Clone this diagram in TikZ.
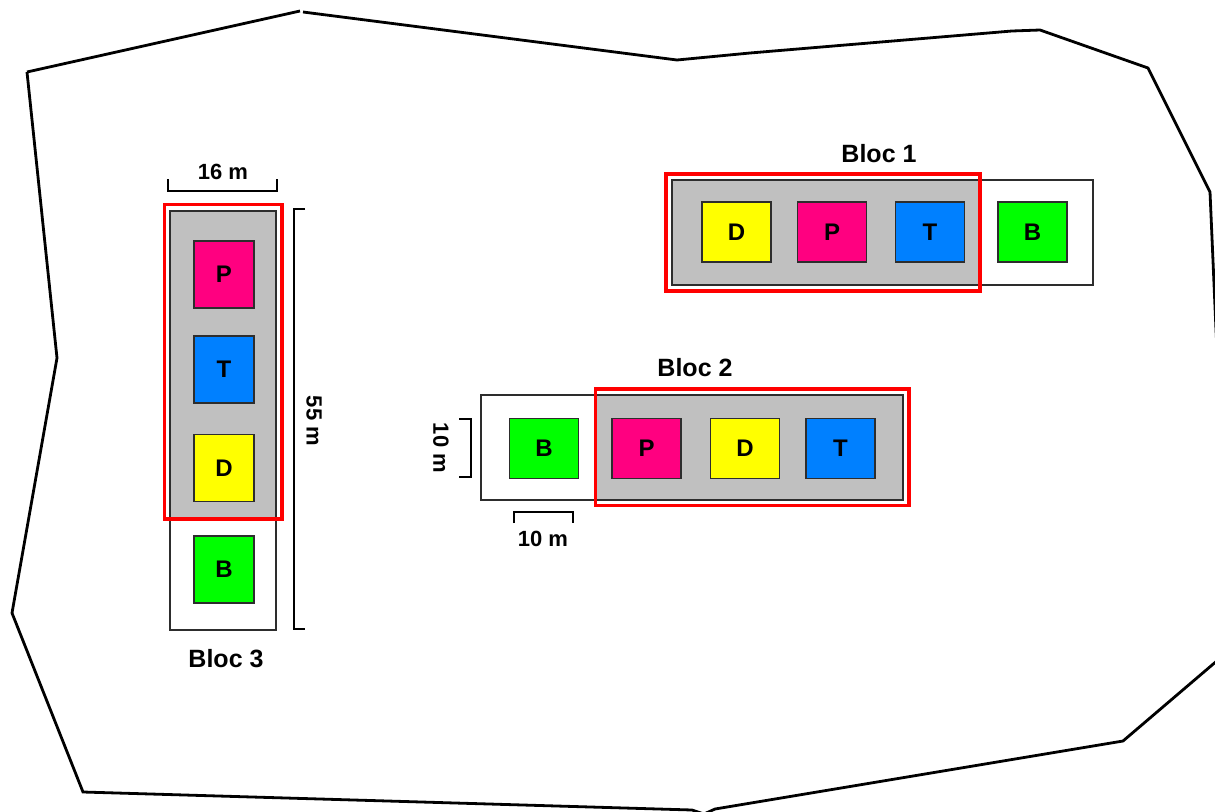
\documentclass[tikz,border=0pt]{standalone}
\usepackage{fontspec}
\setmainfont{Liberation Sans}
\definecolor{plotP}{RGB}{255,0,128}
\definecolor{plotT}{RGB}{0,128,255}
\definecolor{plotD}{RGB}{255,255,0}
\definecolor{plotB}{RGB}{0,255,0}
\definecolor{zone}{RGB}{192,192,192}
\definecolor{edge}{RGB}{45,45,45}
\tikzset{
  field/.style={line width=2.8pt, black, line join=miter},
  strip/.style={draw=edge, line width=1.4pt, fill=white},
  zonefill/.style={fill=zone},
  zoneline/.style={draw=edge, line width=1.4pt},
  frame/.style={draw=red, line width=3.2pt},
  hcell/.style={draw=edge, line width=1.4pt, minimum width=69pt, minimum height=60pt,
    inner sep=0pt, font=\fontsize{24}{24}\selectfont},
  vcell/.style={draw=edge, line width=1.4pt, minimum width=60pt, minimum height=67pt,
    inner sep=0pt, font=\fontsize{24}{24}\selectfont},
  bloclabel/.style={font=\bfseries\fontsize{25}{25}\selectfont, inner sep=0pt},
  dimlabel/.style={font=\bfseries\fontsize{22}{22}\selectfont, inner sep=0pt},
  dimline/.style={line width=2.8pt, black, line join=miter}
}
\begin{document}
\begin{tikzpicture}[x=1pt,y=-1pt]
\useasboundingbox (0,0) rectangle (1215,811);
\fill[white] (0,0) rectangle (1215,811);

% field boundary
\draw[field] (27,72) -- (300,11);
\draw[field] (303,12) -- (677,60) -- (750,53) -- (1012,31) -- (1040,30)
  -- (1148,68) -- (1210,192) -- (1216,330) -- (1232,648) -- (1123,741)
  -- (715,809) -- (704,814) -- (692,810) -- (83,792) -- (12,613) -- (57,358) -- (27,72);

% ---------- Bloc 1 ----------
\draw[strip] (672,180) rectangle (1093,285);
\fill[zonefill] (672,180) rectangle (980,285);
\draw[zoneline] (980,180) -- (672,180) -- (672,285) -- (980,285);
\draw[frame] (666,174) rectangle (980,291);
\node[hcell, fill=plotD] (b1d) at (736.5,232) {\bfseries D};
\node[hcell, fill=plotP] (b1p) at (832,232) {\bfseries P};
\node[hcell, fill=plotT] (b1t) at (930,232) {\bfseries T};
\node[hcell, fill=plotB] (b1b) at (1032.5,232) {\bfseries B};
\node[bloclabel] (bloc1) at (879,154) {Bloc 1};

% ---------- Bloc 2 ----------
\draw[strip] (481,395) rectangle (903,500);
\fill[zonefill] (596,395) rectangle (903,500);
\draw[zoneline] (596,395) -- (903,395) -- (903,500) -- (596,500);
\draw[frame] (595.5,389) rectangle (909,505.5);
\node[hcell, fill=plotB] (b2b) at (544,448.5) {\bfseries B};
\node[hcell, fill=plotP] (b2p) at (646.5,448.5) {\bfseries P};
\node[hcell, fill=plotD] (b2d) at (745,448.5) {\bfseries D};
\node[hcell, fill=plotT] (b2t) at (840.5,448.5) {\bfseries T};
\node[bloclabel] (bloc2) at (695,368) {Bloc 2};

% plot dimensions
\coordinate (v1) at (459,419);
\coordinate (v2) at (459,477);
\draw[dimline] (v1) -- (471,419) -- (471,477) -- (v2);
\node[dimlabel, rotate=-90] (dimv) at (441,448) {10 m};
\coordinate (h1) at (514,523);
\coordinate (h2) at (573,523);
\draw[dimline] (h1) -- (514,512) -- (573,512) -- (h2);
\node[dimlabel] (dimh) at (543,539) {10 m};

% ---------- Bloc 3 ----------
\draw[strip] (170,211) rectangle (276,630);
\fill[zonefill] (170,211) rectangle (276,519);
\draw[zoneline] (170,519) -- (170,211) -- (276,211) -- (276,519);
\draw[frame] (164.5,204.5) rectangle (282,519);
\node[vcell, fill=plotP] (b3p) at (224,274.5) {\bfseries P};
\node[vcell, fill=plotT] (b3t) at (224,369.5) {\bfseries T};
\node[vcell, fill=plotD] (b3d) at (224,468) {\bfseries D};
\node[vcell, fill=plotB] (b3b) at (224,569.5) {\bfseries B};
\node[bloclabel] (bloc3) at (226,659) {Bloc 3};

% block dimensions
\coordinate (w1) at (168,179);
\coordinate (w2) at (277,179);
\draw[dimline] (w1) -- (168,191) -- (277,191) -- (w2);
\node[dimlabel] (dimw) at (223,172) {16 m};
\coordinate (l1) at (305,209);
\coordinate (l2) at (305,629);
\draw[dimline] (l1) -- (294,209) -- (294,629) -- (l2);
\node[dimlabel, rotate=-90] (diml) at (314,421) {55 m};
\end{tikzpicture}
\end{document}
